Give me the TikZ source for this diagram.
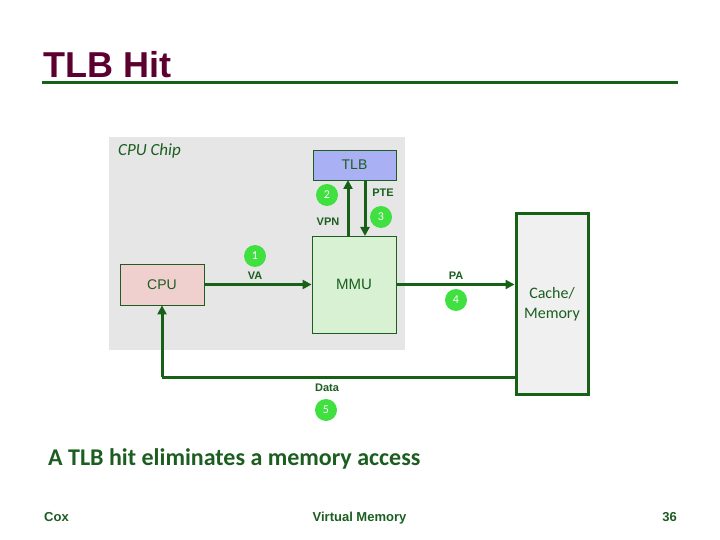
\documentclass[tikz,border=0pt]{standalone}
\usepackage{fontspec}
\setmainfont{Carlito}
\newfontfamily\arialf{Liberation Sans}
\usetikzlibrary{arrows.meta}
\definecolor{dkgreen}{HTML}{1B5E20}
\definecolor{linegreen}{HTML}{176117}
\definecolor{titlecol}{HTML}{5C0030}
\definecolor{chipgray}{HTML}{E6E6E6}
\definecolor{tlbfill}{HTML}{A9B0F4}
\definecolor{mmufill}{HTML}{D7F1D2}
\definecolor{cpufill}{HTML}{F0CFCF}
\definecolor{memfill}{HTML}{F0F0F0}
\definecolor{badge}{HTML}{3FE03F}
\tikzset{
  box/.style={draw=dkgreen, line width=0.8pt, inner sep=0pt, font=\arialf\fontsize{14}{16}\selectfont, text=dkgreen},
  conn/.style={draw=linegreen, line width=3pt, -{Triangle[length=9pt,width=9pt]}},
  plainconn/.style={draw=linegreen, line width=3pt},
  lbl/.style={font=\arialf\bfseries\fontsize{11}{13}\selectfont, text=dkgreen, inner sep=0pt},
  num/.style={circle, fill=badge, minimum size=22pt, inner sep=0pt, text=white, font=\fontsize{12}{13}\selectfont},
  foot/.style={font=\arialf\bfseries\fontsize{13}{15}\selectfont, text=dkgreen, inner sep=0pt}
}
\begin{document}
\begin{tikzpicture}[x=1pt,y=-1pt]
\useasboundingbox (0,0) rectangle (720,540);
% title
\node[anchor=base west, inner sep=0pt, font=\arialf\bfseries\fontsize{36}{40}\selectfont, text=titlecol] (title) at (43,78) {TLB Hit};
\draw[linegreen, line width=3pt] (42,83) -- (678,83);
% chip
\fill[chipgray] (109,137) rectangle (405,350);
\node[anchor=north west, inner sep=0pt, font=\itshape\fontsize{17}{19}\selectfont, text=dkgreen] (chip) at (118,143) {CPU Chip};
% boxes
\node[box, fill=tlbfill, minimum width=83pt, minimum height=30pt] (tlb) at (354.5,165) {TLB};
\node[box, fill=mmufill, minimum width=84pt, minimum height=97pt, font=\arialf\fontsize{15}{17}\selectfont] (mmu) at (354,284.5) {MMU};
\node[box, fill=cpufill, minimum width=84pt, minimum height=41pt] (cpu) at (162,284.5) {CPU};
\node[box, draw=linegreen, line width=3pt, fill=memfill, minimum width=72pt, minimum height=180pt, align=center, font=\fontsize{16}{20}\selectfont] (mem) at (552,304) {Cache/\\Memory};
% connectors
\draw[conn] (cpu.east) -- (mmu.west);
\draw[conn] (348,236) -- (348,180);
\draw[conn] (365,180) -- (365,236);
\draw[conn] (mmu.east) -- (mem.west |- mmu.east);
\coordinate (dcorner) at (162,377);
\draw[plainconn] (mem.west |- dcorner) -- (dcorner);
\draw[conn] (dcorner) -- (cpu.south);
% labels
\node[lbl] (va) at (255,276) {VA};
\node[num] (n1) at (255,256) {1};
\node[lbl] (vpn) at (328,222) {VPN};
\node[num] (n2) at (327,195) {2};
\node[lbl] (pte) at (383,193) {PTE};
\node[num] (n3) at (381,217) {3};
\node[lbl] (pa) at (456,276) {PA};
\node[num] (n4) at (456,300) {4};
\node[lbl] (data) at (327,388) {Data};
\node[num] (n5) at (326,410) {5};
% caption
\node[anchor=base west, inner sep=0pt, font=\bfseries\fontsize{24}{28}\selectfont, text=dkgreen] (cap) at (48,465) {A TLB hit eliminates a memory access};
% footer
\node[foot, anchor=base west] (cox) at (44,521) {Cox};
\node[foot, anchor=base] (vm) at (359.5,521) {Virtual Memory};
\node[foot, anchor=base east] (pg) at (677,521) {36};
\end{tikzpicture}
\end{document}
